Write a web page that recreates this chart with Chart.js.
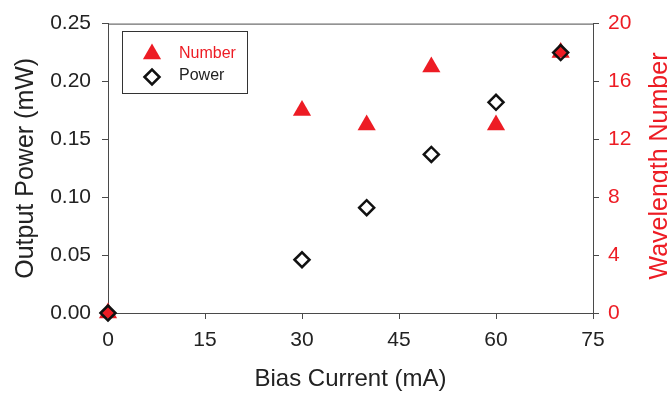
<!DOCTYPE html>
<html>
<head>
<meta charset="utf-8">
<script src="https://cdn.jsdelivr.net/npm/chart.js@4.4.1/dist/chart.umd.min.js"></script>
<style>
  html, body { margin: 0; padding: 0; background: #ffffff; }
  #wrap { width: 668px; height: 395px; }
</style>
</head>
<body>
<div id="wrap"><canvas id="chart" width="668" height="395"></canvas></div>
<script>
// Bias current sweep (mA)
const biasCurrent = [0, 30, 40, 50, 60, 70];
// Optical output power (mW), left axis
const outputPower = [0, 0.046, 0.091, 0.137, 0.182, 0.225];
// Number of lasing wavelengths, right axis
const wavelengthNumber = [0, 14, 13, 17, 13, 18];

const xTicks = [0, 15, 30, 45, 60, 75];
const powerTicks = [0, 0.05, 0.10, 0.15, 0.20, 0.25];
const numberTicks = [0, 4, 8, 12, 16, 20];

const RED = '#ED1C24';
const INK = '#222222';
const AXIS = '#4a4a4a';
const FONT = '"Liberation Sans", Arial, Helvetica, sans-serif';

// Frame line across the top and the custom legend / right-hand title
const decorations = {
  id: 'decorations',
  afterDraw(chart) {
    const { ctx, chartArea: a } = chart;
    ctx.save();
    ctx.strokeStyle = AXIS;
    ctx.lineWidth = 1;
    ctx.beginPath();
    ctx.moveTo(a.left, a.top + 0.5);
    ctx.lineTo(a.right, a.top + 0.5);
    ctx.stroke();

    // Legend box
    const lx = 122.5, ly = 31.5, lw = 125, lh = 62;
    ctx.fillStyle = '#ffffff';
    ctx.fillRect(lx, ly, lw, lh);
    ctx.strokeStyle = '#333333';
    ctx.lineWidth = 1;
    ctx.strokeRect(lx, ly, lw, lh);

    // Triangle symbol
    const tx = 152, ty = 54, tr = 10.5;
    ctx.fillStyle = RED;
    ctx.beginPath();
    ctx.moveTo(tx, ty - tr);
    ctx.lineTo(tx + tr * Math.sqrt(3) / 2, ty + tr / 2);
    ctx.lineTo(tx - tr * Math.sqrt(3) / 2, ty + tr / 2);
    ctx.closePath();
    ctx.fill();

    // Diamond symbol
    const dx = 152, dy = 77, dr = 7.5;
    ctx.strokeStyle = '#111111';
    ctx.lineWidth = 2.5;
    ctx.beginPath();
    ctx.moveTo(dx - dr, dy);
    ctx.lineTo(dx, dy - dr);
    ctx.lineTo(dx + dr, dy);
    ctx.lineTo(dx, dy + dr);
    ctx.closePath();
    ctx.stroke();

    ctx.font = '16px ' + FONT;
    ctx.textBaseline = 'middle';
    ctx.textAlign = 'left';
    ctx.fillStyle = RED;
    ctx.fillText(chart.data.datasets[1].label, 179, 54);
    ctx.fillStyle = INK;
    ctx.fillText(chart.data.datasets[0].label, 179, 76);

    // Right axis title, reading bottom to top
    ctx.save();
    ctx.translate(660, 166);
    ctx.rotate(-Math.PI / 2);
    ctx.font = '25px ' + FONT;
    ctx.fillStyle = RED;
    ctx.textAlign = 'center';
    ctx.textBaseline = 'middle';
    ctx.fillText('Wavelength Number', 0, 0);
    ctx.restore();

    ctx.restore();
  }
};

new Chart(document.getElementById('chart'), {
  type: 'scatter',
  data: {
    datasets: [
      {
        label: 'Power',
        data: biasCurrent.map((x, i) => ({ x, y: outputPower[i] })),
        yAxisID: 'y',
        pointStyle: 'rectRot',
        pointRadius: 7.5,
        pointHoverRadius: 7.5,
        backgroundColor: 'rgba(0,0,0,0)',
        borderColor: '#111111',
        borderWidth: 2.5,
        clip: false
      },
      {
        label: 'Number',
        data: biasCurrent.map((x, i) => ({ x, y: wavelengthNumber[i] })),
        yAxisID: 'y1',
        pointStyle: 'triangle',
        pointRadius: 10.5,
        pointHoverRadius: 10.5,
        backgroundColor: RED,
        borderColor: RED,
        borderWidth: 0,
        clip: false
      }
    ]
  },
  options: {
    responsive: false,
    animation: false,
    events: [],
    layout: { padding: { top: 21, left: 0, right: 0, bottom: 0 } },
    plugins: {
      legend: { display: false },
      tooltip: { enabled: false }
    },
    scales: {
      x: {
        type: 'linear',
        min: 0,
        max: 75,
        afterBuildTicks: s => { s.ticks = xTicks.map(v => ({ value: v })); },
        afterFit: s => { s.height = 82; },
        border: { display: true, color: AXIS, width: 1 },
        grid: { display: true, drawOnChartArea: false, drawTicks: true, tickLength: 6, color: AXIS },
        ticks: { padding: 9, color: INK, font: { family: FONT, size: 21 }, maxRotation: 0 },
        title: { display: true, text: 'Bias Current (mA)', color: INK, font: { family: FONT, size: 24 }, padding: { top: 0, bottom: 1 } }
      },
      y: {
        type: 'linear',
        position: 'left',
        min: 0,
        max: 0.25,
        afterBuildTicks: s => { s.ticks = powerTicks.map(v => ({ value: v })); },
        afterFit: s => { s.width = 108; },
        border: { display: true, color: AXIS, width: 1 },
        grid: { display: true, drawOnChartArea: false, drawTicks: true, tickLength: 6, color: AXIS },
        ticks: { padding: 11, color: INK, font: { family: FONT, size: 21 }, callback: v => v.toFixed(2) },
        title: { display: true, text: 'Output Power (mW)', color: INK, font: { family: FONT, size: 25 }, padding: { top: 11, bottom: 0 } }
      },
      y1: {
        type: 'linear',
        position: 'right',
        min: 0,
        max: 20,
        afterBuildTicks: s => { s.ticks = numberTicks.map(v => ({ value: v })); },
        afterFit: s => { s.width = 75; },
        border: { display: true, color: AXIS, width: 1 },
        grid: { display: true, drawOnChartArea: false, drawTicks: true, tickLength: 6, color: AXIS },
        ticks: { padding: 9, color: RED, font: { family: FONT, size: 21 } }
      }
    }
  },
  plugins: [decorations]
});
</script>
</body>
</html>
